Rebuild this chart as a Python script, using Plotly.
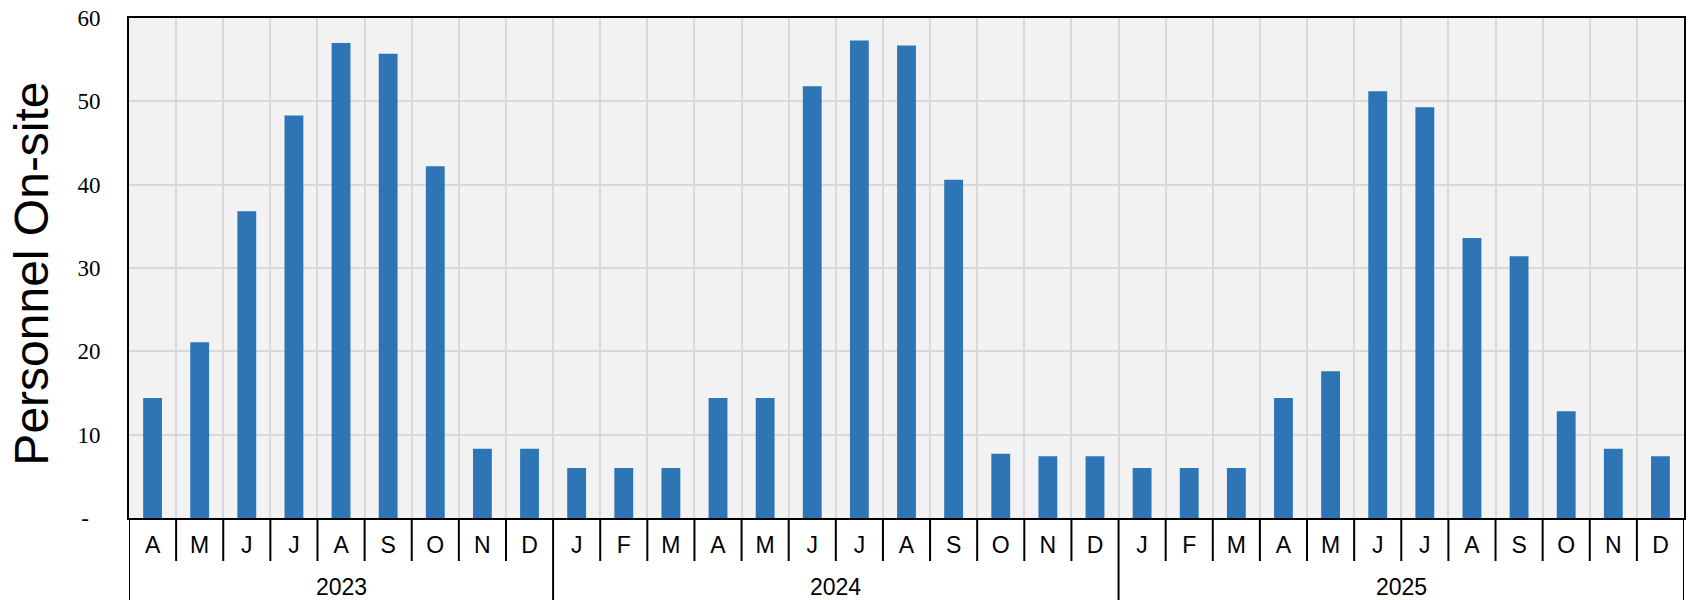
import plotly.graph_objects as go

# ---- data ----
years = ["2023", "2024", "2025"]
months_2023 = ["A", "M", "J", "J", "A", "S", "O", "N", "D"]
months_2024 = ["J", "F", "M", "A", "M", "J", "J", "A", "S", "O", "N", "D"]
months_2025 = ["J", "F", "M", "A", "M", "J", "J", "A", "S", "O", "N", "D"]
values_2023 = [14.4, 21.1, 36.8, 48.3, 57.0, 55.7, 42.2, 8.3, 8.3]
values_2024 = [6.0, 6.0, 6.0, 14.4, 14.4, 51.8, 57.3, 56.7, 40.6, 7.7, 7.4, 7.4]
values_2025 = [6.0, 6.0, 6.0, 14.4, 17.6, 51.2, 49.3, 33.6, 31.4, 12.8, 8.3, 7.4]
y_tick_vals = [0, 10, 20, 30, 40, 50, 60]
y_tick_text = ["-\u00a0\u00a0", "10", "20", "30", "40", "50", "60"]
y_title = "Personnel On-site"

month_groups = [months_2023, months_2024, months_2025]
value_groups = [values_2023, values_2024, values_2025]

months = [m for g in month_groups for m in g]
values = [v for g in value_groups for v in g]
xs = list(range(len(values)))
n = len(values)

# ---- layout geometry ----
W, H = 1688, 600
ML, MR, MT, MB = 129, 2, 18, 82
plot_h = H - MT - MB

BAR = "#2E75B6"
SANS = "Liberation Sans, Arial, sans-serif"
SERIF = "Liberation Serif, Cambria, serif"

fig = go.Figure()
fig.add_trace(go.Bar(x=xs, y=values, marker=dict(color=BAR, line=dict(width=0)),
                     hoverinfo="y"))

# dividers and year labels
shapes = []
annotations = []
start = 0
year_bounds = [-0.5]
for yr, g in zip(years, month_groups):
    end = start + len(g)
    year_bounds.append(end - 0.5)
    annotations.append(dict(x=(start + end - 1) / 2, y=-(587 - (H - MB)) / plot_h,
                            xref="x", yref="paper", text=yr, showarrow=False,
                            xanchor="center", yanchor="middle",
                            font=dict(family=SANS, size=23, color="black")))
    start = end

for i in range(n + 1):
    b = i - 0.5
    long_line = any(abs(b - yb) < 1e-9 for yb in year_bounds)
    y1 = -(MB + 2) / plot_h if long_line else -43 / plot_h
    shapes.append(dict(type="line", xref="x", yref="paper", x0=b, x1=b, y0=0, y1=y1,
                       line=dict(color="black", width=2)))

annotations.append(dict(x=-(ML - 30.5) / (W - ML - MR), y=(H - MB - 274) / plot_h,
                        xref="paper", yref="paper", text=y_title, textangle=-90,
                        showarrow=False, xanchor="center", yanchor="middle",
                        font=dict(family=SANS, size=48, color="black")))

fig.update_layout(
    width=W, height=H,
    margin=dict(l=ML, r=MR, t=MT, b=MB),
    paper_bgcolor="white", plot_bgcolor="#F2F2F2",
    bargap=0.6, showlegend=False,
    shapes=shapes, annotations=annotations,
    xaxis=dict(range=[-0.5, n - 0.5], tickmode="array", tickvals=xs, ticktext=months,
               ticks="", showgrid=False, zeroline=False,
               showline=True, linecolor="black", linewidth=2, mirror=True,
               tickfont=dict(family=SANS, size=23, color="black"),
               ticklabelstandoff=5,
               minor=dict(tick0=-0.5, dtick=1, showgrid=True, gridcolor="#D9D9D9",
                          gridwidth=1.8, ticks="")),
    yaxis=dict(range=[0, 60], tickmode="array", tickvals=y_tick_vals, ticktext=y_tick_text,
               ticks="", showgrid=True, gridcolor="#D9D9D9", gridwidth=1.8,
               zeroline=False, showline=True, linecolor="black", linewidth=2, mirror=True,
               tickfont=dict(family=SERIF, size=23, color="black"),
               ticklabelstandoff=22),
)

fig.write_html("out.html",
               config={"displayModeBar": False},
               post_script="document.body.style.margin='0';document.body.style.overflow='hidden';")
